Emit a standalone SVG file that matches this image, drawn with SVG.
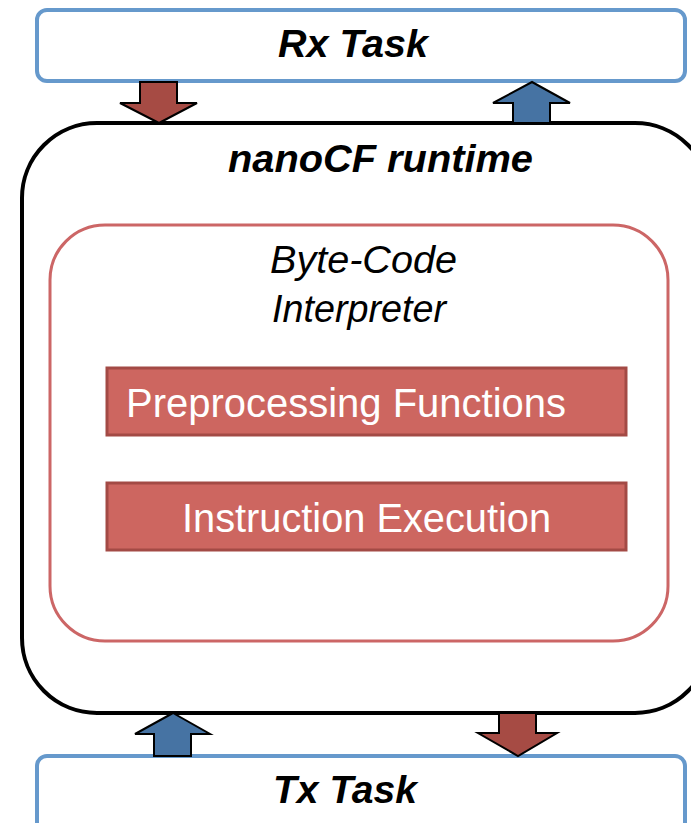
<svg xmlns="http://www.w3.org/2000/svg" width="691" height="823" viewBox="0 0 691 823">
  <style>
    .task { fill: #ffffff; stroke: #6699CC; stroke-width: 4; }
    .runtime { fill: #ffffff; stroke: #000000; stroke-width: 4; }
    .interp { fill: #ffffff; stroke: #CC6666; stroke-width: 3; }
    .stage { fill: #CD6660; stroke: #A34A45; stroke-width: 3; }
    .down { fill: #A64B44; stroke: #000000; stroke-width: 2; stroke-linejoin: miter; }
    .up { fill: #4673A3; stroke: #000000; stroke-width: 2; stroke-linejoin: miter; }
    .bi { font-family: "Liberation Sans", Arial, sans-serif; font-weight: bold; font-style: italic; fill: #000000; }
    .it { font-family: "Liberation Sans", Arial, sans-serif; font-style: italic; fill: #000000; font-size: 38px; }
    .lbl { font-family: "Liberation Sans", Arial, sans-serif; fill: #ffffff; font-size: 40px; }
  </style>

  <g id="rx-task">
    <rect class="task" x="37" y="10" width="648" height="71" rx="10"/>
    <text class="bi" x="278" y="57" font-size="39" textLength="150" lengthAdjust="spacingAndGlyphs">Rx Task</text>
  </g>

  <g id="tx-task">
    <rect class="task" x="37" y="756" width="648" height="90" rx="10"/>
    <text class="bi" x="273" y="803" font-size="39" textLength="144" lengthAdjust="spacingAndGlyphs">Tx Task</text>
  </g>

  <g id="nanocf-runtime">
    <rect class="runtime" x="22" y="123" width="688" height="590" rx="75"/>
    <text class="bi" x="228" y="172" font-size="39" textLength="305" lengthAdjust="spacingAndGlyphs">nanoCF runtime</text>
  </g>

  <g id="byte-code-interpreter">
    <rect class="interp" x="50" y="225" width="618" height="416" rx="55"/>
    <text class="it" x="270" y="273" textLength="187" lengthAdjust="spacingAndGlyphs">Byte-Code</text>
    <text class="it" x="272" y="322" textLength="174" lengthAdjust="spacingAndGlyphs">Interpreter</text>
  </g>

  <g id="preprocessing-functions">
    <rect class="stage" x="107" y="368" width="519" height="67"/>
    <text class="lbl" x="126" y="417" textLength="440" lengthAdjust="spacingAndGlyphs">Preprocessing Functions</text>
  </g>

  <g id="instruction-execution">
    <rect class="stage" x="107" y="483" width="519" height="67"/>
    <text class="lbl" x="182" y="532" textLength="369" lengthAdjust="spacingAndGlyphs">Instruction Execution</text>
  </g>

  <g id="connectors">
    <!-- Rx Task to runtime -->
    <polygon class="down" points="140,82 177,82 177,103 197,103 159,123 120,103 140,103"/>
    <!-- runtime to Rx Task -->
    <polygon class="up" points="532,82 570,103 550,103 550,123 513,123 513,103 493,103"/>
    <!-- Tx Task to runtime -->
    <polygon class="up" points="173,713 210,734 191,734 191,756 154,756 154,734 135,734"/>
    <!-- runtime to Tx Task -->
    <polygon class="down" points="499,713 536,713 536,733 557,733 518,756 478,733 499,733"/>
  </g>
</svg>
